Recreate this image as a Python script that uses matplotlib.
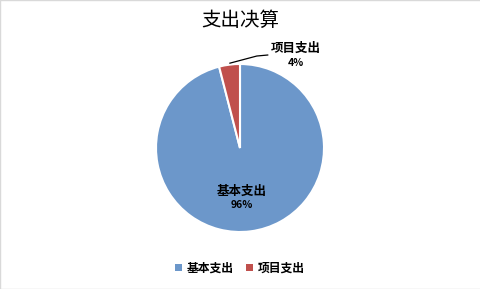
import matplotlib.pyplot as plt
from matplotlib.patches import Patch

plt.rcParams['font.family'] = ['Noto Sans CJK SC', 'DejaVu Sans']

categories = ['基本支出', '项目支出']
values = [96, 4]
colors = ['#6C97CA', '#C0504D']

fig = plt.figure(figsize=(4.81, 2.89), dpi=100)
fig.patch.set_facecolor('white')
# pie area: center (240,148) radius ~84 px
ax = fig.add_axes([(240 - 85) / 481, 1 - (148 + 85) / 289, 170 / 481, 170 / 289])

wedges, _ = ax.pie(values, colors=colors, startangle=90, counterclock=False,
                   wedgeprops=dict(edgecolor='white', linewidth=1.5))
ax.set_aspect('equal')
ax.set_xlim(-85 / 84, 85 / 84)
ax.set_ylim(-85 / 84, 85 / 84)

total = sum(values)
# label for the large slice, inside
ax.text(0.02, -0.52, categories[0], ha='center', va='center', fontsize=9, fontweight='bold')
ax.text(0.02, -0.68, f'{round(values[0] / total * 100)}%', ha='center', va='center',
        fontsize=7.5, fontweight='bold')

# label for the small slice, outside with leader line
ax.plot([-0.12, 0.20, 0.33], [1.01, 1.095, 1.107], color='black', lw=0.9, clip_on=False)
ax.text(0.66, 1.19, categories[1], ha='center', va='center', fontsize=9, fontweight='bold')
ax.text(0.66, 1.01, f'{round(values[1] / total * 100)}%', ha='center', va='center',
        fontsize=7.5, fontweight='bold')

fig.text(240 / 481, 1 - 20 / 289, '支出决算', ha='center', va='center', fontsize=14)

handles = [Patch(facecolor=c, edgecolor='none') for c in colors]
fig.legend(handles, categories, loc='center', bbox_to_anchor=(240 / 481, 1 - 268 / 289),
           ncol=2, frameon=False, prop={'size': 8.5, 'weight': 'bold'},
           handlelength=0.6, handleheight=0.6, handletextpad=0.4, columnspacing=1.0)

fig.add_artist(plt.Rectangle((0, 0), 1, 1, transform=fig.transFigure, fill=False,
                             edgecolor='#D9D9D9', lw=1))
fig.savefig('out.png', dpi=100, facecolor='white')
